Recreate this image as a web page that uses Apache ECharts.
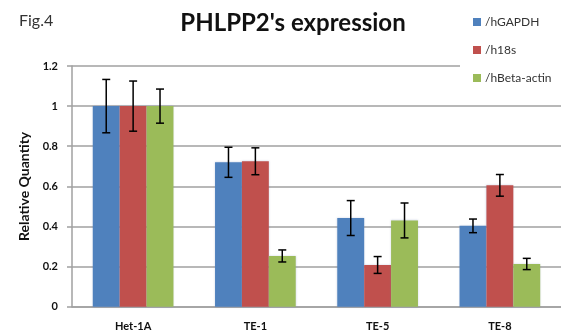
<!DOCTYPE html>
<html>
<head>
<meta charset="utf-8">
<script src="https://cdn.jsdelivr.net/npm/echarts@6/dist/echarts.min.js"></script>
<style>
html,body{margin:0;padding:0;background:#fff;}
#main{width:561px;height:332px;}
</style>
</head>
<body>
<div id="main"></div>
<script>
var categories = ['Het-1A', 'TE-1', 'TE-5', 'TE-8'];
var seriesNames = ['/hGAPDH', '/h18s', '/hBeta-actin'];
var gapdhVals = [1.0, 0.72, 0.442, 0.403];
var gapdhErr = [0.133, 0.075, 0.087, 0.034];
var h18sVals = [1.0, 0.725, 0.208, 0.605];
var h18sErr = [0.125, 0.067, 0.042, 0.054];
var actinVals = [1.0, 0.253, 0.43, 0.213];
var actinErr = [0.085, 0.03, 0.087, 0.028];
var colors = ['#4F81BD', '#C0504D', '#9BBB59'];

var chart = echarts.init(document.getElementById('main'));
var FONT = 'Lato, "Liberation Sans", sans-serif';
var groupRatio = 0.66;

var allVals = [gapdhVals, h18sVals, actinVals];
var allErr = [gapdhErr, h18sErr, actinErr];

//柱子
var series = [];
for (var s = 0; s < 3; s++) {
    series.push({
        name: seriesNames[s],
        type: 'bar',
        data: allVals[s],
        barGap: '0%',
        barCategoryGap: '34%',
        itemStyle: {color: colors[s], shadowBlur: 2, shadowColor: 'rgba(120,140,180,0.35)'},
        z: 2
    });
}
//误差线
for (var s = 0; s < 3; s++) {
    (function (idx) {
        var d = [];
        for (var i = 0; i < categories.length; i++) {
            d.push([i, allVals[idx][i] - allErr[idx][i], allVals[idx][i] + allErr[idx][i]]);
        }
        series.push({
            type: 'custom',
            data: d,
            z: 5,
            silent: true,
            renderItem: function (params, api) {
                var band = api.size([1, 0])[0];
                var barW = band * groupRatio / 3;
                var off = (idx - 1) * barW;
                var lo = api.coord([api.value(0), api.value(1)]);
                var hi = api.coord([api.value(0), api.value(2)]);
                var x = lo[0] + off;
                var cap = 4;
                var st = {stroke: '#000', lineWidth: 1.5};
                return {
                    type: 'group',
                    children: [
                        {type: 'line', shape: {x1: x, y1: lo[1], x2: x, y2: hi[1]}, style: st},
                        {type: 'line', shape: {x1: x - cap, y1: lo[1], x2: x + cap, y2: lo[1]}, style: st},
                        {type: 'line', shape: {x1: x - cap, y1: hi[1], x2: x + cap, y2: hi[1]}, style: st}
                    ]
                };
            }
        });
    })(s);
}

chart.setOption({
    animation: false,
    backgroundColor: '#fff',
    title: [{
        text: "PHLPP2's expression",
        left: 288, top: 6, textAlign: 'center',
        textStyle: {fontFamily: FONT, fontSize: 24, fontWeight: 'bold', color: '#111'}
    }, {
        text: 'Fig.4',
        left: 14, top: 8,
        textStyle: {fontFamily: FONT, fontSize: 16, fontWeight: 'normal', color: '#333'}
    }],
    legend: {
        orient: 'vertical',
        left: 460, top: 0,
        padding: [16, 20, 12, 13],
        backgroundColor: '#fff',
        itemWidth: 8, itemHeight: 8, itemGap: 16,
        icon: 'rect',
        data: seriesNames,
        textStyle: {fontFamily: FONT, fontSize: 12, color: '#333', padding: [0, 0, 0, -1]},
        z: 10
    },
    grid: {left: 72, top: 66, width: 496, height: 240.7},
    xAxis: {
        type: 'category',
        data: categories,
        axisLine: {lineStyle: {color: '#a0a0a0', width: 1.5}},
        axisTick: {show: false},
        axisLabel: {fontFamily: FONT, fontSize: 11, fontWeight: 'bold', color: '#111', margin: 14}
    },
    yAxis: {
        type: 'value',
        min: 0, max: 1.2, interval: 0.2,
        name: 'Relative Quantity',
        nameLocation: 'middle',
        nameGap: 38,
        nameTextStyle: {fontFamily: FONT, fontSize: 14, fontWeight: 'bold', color: '#111'},
        axisLine: {show: true, lineStyle: {color: '#a0a0a0', width: 1.5}},
        axisTick: {show: true, length: 5, lineStyle: {color: '#a0a0a0', width: 1.5}},
        axisLabel: {fontFamily: FONT, fontSize: 11, fontWeight: 'bold', color: '#111', margin: 14},
        splitLine: {lineStyle: {color: '#a0a0a0', width: 1.5}}
    },
    series: series
});
</script>
</body>
</html>
